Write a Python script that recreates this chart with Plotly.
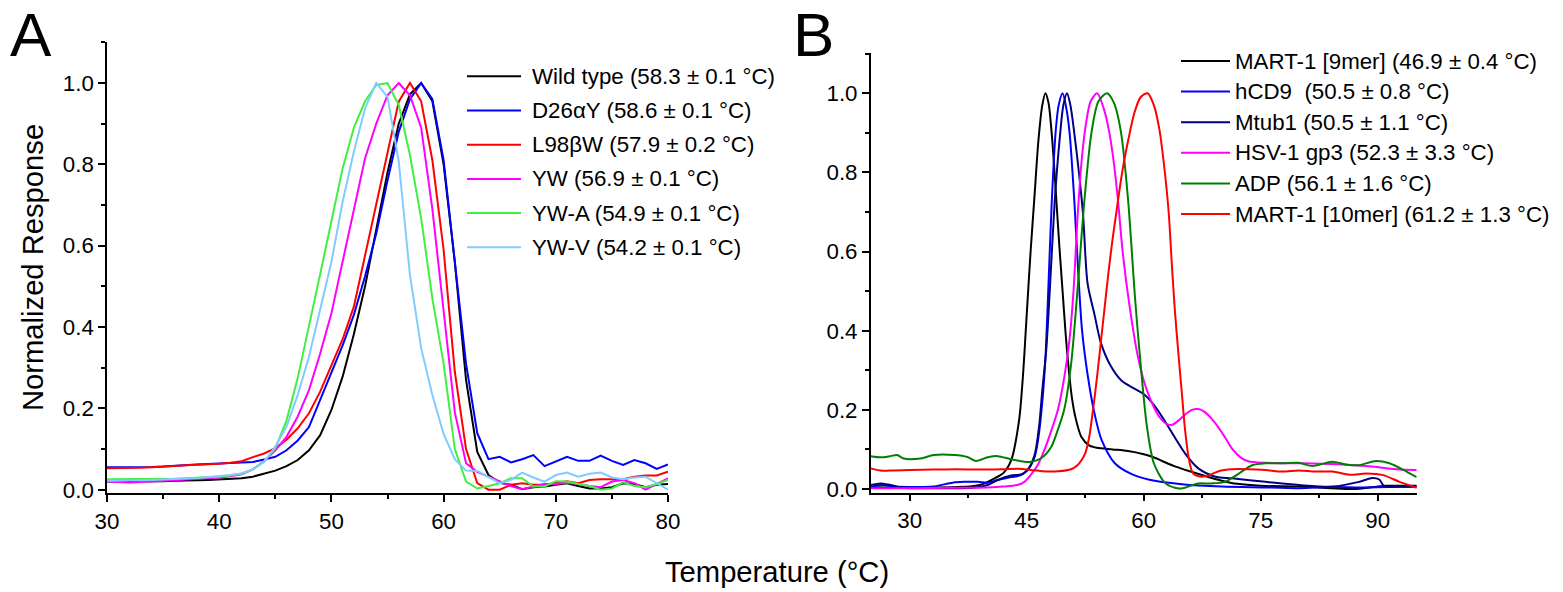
import plotly.graph_objects as go

W, H = 1563, 592
FONT = "Liberation Sans, Arial, sans-serif"

# ---------------- Panel A data (1 °C steps) ----------------
temp_a = list(range(30, 81))
wild_type = [0.020, 0.020, 0.020, 0.021, 0.021, 0.021, 0.022, 0.022, 0.023, 0.024,
             0.025, 0.026, 0.028, 0.032, 0.039, 0.047, 0.058, 0.073, 0.097, 0.134,
             0.196, 0.278, 0.382, 0.500, 0.640, 0.780, 0.900, 0.972, 1.000, 0.955,
             0.800, 0.560, 0.270, 0.093, 0.036, 0.017, 0.012, 0.001, 0.006, 0.008,
             0.012, 0.016, 0.009, 0.003, 0.003, 0.006, 0.016, 0.014, 0.006, 0.012, 0.014]
d26ay = [0.055, 0.055, 0.055, 0.056, 0.056, 0.057, 0.059, 0.061, 0.062, 0.063,
         0.064, 0.065, 0.066, 0.068, 0.074, 0.081, 0.097, 0.121, 0.154, 0.220,
         0.285, 0.355, 0.430, 0.525, 0.630, 0.760, 0.880, 0.960, 1.000, 0.960,
         0.810, 0.560, 0.310, 0.139, 0.075, 0.081, 0.067, 0.075, 0.085, 0.058,
         0.069, 0.081, 0.071, 0.071, 0.084, 0.071, 0.061, 0.073, 0.065, 0.051, 0.062]
l98bw = [0.053, 0.053, 0.054, 0.054, 0.055, 0.056, 0.058, 0.060, 0.061, 0.063,
         0.064, 0.066, 0.070, 0.080, 0.089, 0.102, 0.123, 0.151, 0.188, 0.241,
         0.305, 0.370, 0.450, 0.577, 0.708, 0.831, 0.954, 1.000, 0.955, 0.810,
         0.590, 0.290, 0.100, 0.016, 0.000, 0.000, 0.012, 0.016, 0.012, 0.012,
         0.016, 0.021, 0.016, 0.024, 0.026, 0.026, 0.026, 0.032, 0.035, 0.035, 0.044]
yw = [0.020, 0.019, 0.018, 0.019, 0.020, 0.021, 0.023, 0.025, 0.026, 0.028,
      0.030, 0.033, 0.038, 0.050, 0.070, 0.097, 0.130, 0.180, 0.245, 0.335,
      0.434, 0.560, 0.692, 0.815, 0.900, 0.970, 1.000, 0.970, 0.890, 0.690,
      0.440, 0.190, 0.065, 0.044, 0.032, 0.020, 0.009, 0.001, 0.008, 0.014,
      0.014, 0.017, 0.014, 0.009, 0.006, 0.020, 0.024, 0.016, 0.000, 0.014, 0.028]
yw_a = [0.026, 0.026, 0.026, 0.026, 0.026, 0.027, 0.027, 0.028, 0.029, 0.030,
        0.032, 0.035, 0.040, 0.050, 0.070, 0.102, 0.170, 0.275, 0.400, 0.530,
        0.660, 0.790, 0.890, 0.955, 0.995, 1.000, 0.946, 0.823, 0.667, 0.470,
        0.310, 0.100, 0.020, 0.003, 0.009, 0.016, 0.028, 0.028, 0.008, 0.008,
        0.021, 0.020, 0.014, 0.009, 0.000, 0.003, 0.018, 0.009, 0.006, 0.014, 0.024]
yw_v = [0.022, 0.022, 0.023, 0.023, 0.024, 0.025, 0.026, 0.027, 0.029, 0.031,
        0.033, 0.036, 0.040, 0.050, 0.068, 0.106, 0.155, 0.233, 0.327, 0.442,
        0.560, 0.708, 0.831, 0.938, 1.000, 0.966, 0.807, 0.528, 0.348, 0.233,
        0.137, 0.075, 0.047, 0.046, 0.032, 0.016, 0.024, 0.042, 0.030, 0.020,
        0.036, 0.042, 0.032, 0.039, 0.042, 0.030, 0.026, 0.030, 0.032, 0.016, 0.000]

series_a = [wild_type, d26ay, l98bw, yw, yw_a, yw_v]
names_a = ["Wild type (58.3 ± 0.1 °C)", "D26αY (58.6 ± 0.1 °C)", "L98βW (57.9 ± 0.2 °C)",
           "YW (56.9 ± 0.1 °C)", "YW-A (54.9 ± 0.1 °C)", "YW-V (54.2 ± 0.1 °C)"]
colors_a = ["#000000", "#0000FF", "#FF0000", "#FF00FF", "#40F040", "#80CCFF"]

# ---------------- Panel B data ----------------
t_mart9 = [25, 27, 30, 33, 36, 38, 39, 40, 41, 42, 43, 44, 44.5, 45, 45.5, 46, 46.5, 47, 47.4,
           47.8, 48.2, 48.5, 48.8, 49.2, 49.6, 50, 50.4, 50.8, 51.2, 52, 53, 54, 56, 58, 60,
           61, 62, 63, 64, 66, 68, 70, 72, 75, 80, 84, 87, 89, 91, 95]
y_mart9 = [0.005, 0.004, 0.004, 0.004, 0.005, 0.007, 0.010, 0.018, 0.028, 0.040, 0.072, 0.170,
           0.280, 0.440, 0.600, 0.740, 0.880, 0.970, 1.000, 0.975, 0.900, 0.820, 0.730, 0.610,
           0.500, 0.390, 0.300, 0.230, 0.185, 0.132, 0.110, 0.104, 0.100, 0.096, 0.088,
           0.082, 0.074, 0.065, 0.057, 0.044, 0.032, 0.021, 0.013, 0.008, 0.006, 0.002,
           0.000, 0.004, 0.008, 0.008]

t_hcd9 = [25, 26.3, 28, 30, 33, 35.5, 37, 38.7, 40, 41.2, 43, 44, 45, 46, 46.5, 47, 47.4, 47.8,
          48.2, 48.7, 49.1, 49.6, 50.1, 50.5, 51.1, 51.6, 52.1, 52.8, 53.7, 54.6, 56.3, 58.4,
          60.6, 64.9, 70, 76, 80, 84, 88, 95]
y_hcd9 = [0.005, 0.010, 0.006, 0.005, 0.006, 0.016, 0.018, 0.018, 0.016, 0.022, 0.030, 0.033,
          0.045, 0.080, 0.130, 0.220, 0.330, 0.520, 0.720, 0.900, 0.970, 1.000, 0.960, 0.900,
          0.730, 0.550, 0.400, 0.290, 0.190, 0.124, 0.065, 0.038, 0.024, 0.012, 0.006, 0.004,
          0.002, 0.005, 0.004, 0.006]

t_mtub1 = [25, 26.3, 27.5, 29.2, 32, 36, 38, 40, 41.2, 43, 44.3, 45.1, 46, 46.6, 47, 47.5, 47.9,
           48.6, 49.3, 49.7, 50.17, 50.6, 51.1, 52.2, 52.8, 53.7, 54.5, 55.8, 57.1, 58.4, 60.1,
           61.4, 62.7, 64.0, 65.3, 67, 69.2, 71.3, 75.6, 79.9, 84.2, 87.6, 89.3, 90.2, 90.8,
           92.8, 95]
y_mtub1 = [0.010, 0.014, 0.010, 0.003, 0.002, 0.002, 0.003, 0.010, 0.022, 0.034, 0.037, 0.048,
           0.085, 0.160, 0.250, 0.350, 0.480, 0.730, 0.900, 0.970, 1.000, 0.970, 0.900, 0.700,
           0.520, 0.440, 0.370, 0.310, 0.275, 0.258, 0.238, 0.210, 0.172, 0.130, 0.090, 0.052,
           0.031, 0.027, 0.018, 0.010, 0.006, 0.018, 0.028, 0.024, 0.008, 0.006, 0.006]

t_hsv = [25, 30, 35, 40, 42, 43.8, 44.7, 45.5, 46.4, 47.3, 48.2, 49, 49.8, 50.5, 51, 51.5, 52,
         52.5, 53.2, 54.03, 54.9, 55.6, 56.2, 56.7, 57.3, 58.2, 59.2, 60.1, 61, 61.9, 62.8,
         63.6, 64.4, 65.3, 66.2, 67, 67.8, 68.7, 69.6, 70.5, 71.4, 72.4, 73.4, 75.6, 79.9,
         84.2, 88.5, 92.8, 95]
y_hsv = [0.002, 0.002, 0.003, 0.004, 0.006, 0.010, 0.018, 0.035, 0.060, 0.100, 0.150, 0.200,
         0.280, 0.380, 0.500, 0.680, 0.820, 0.910, 0.980, 1.000, 0.960, 0.900, 0.820, 0.730,
         0.600, 0.460, 0.340, 0.268, 0.220, 0.185, 0.166, 0.162, 0.172, 0.188, 0.200, 0.202,
         0.195, 0.178, 0.155, 0.128, 0.100, 0.080, 0.070, 0.066, 0.065, 0.063, 0.058, 0.049,
         0.048]

t_adp = [25, 26.3, 27.5, 28.4, 29.2, 31.4, 33.1, 35.7, 37.4, 38.5, 40, 41.3, 43, 44.7, 45.6,
         46.8, 48.1, 49, 49.8, 50.7, 51.5, 52.4, 53.3, 54.2, 55.3, 56.2, 57.1, 58.0, 58.9,
         59.6, 60.4, 61.3, 62.7, 64, 65, 66, 67, 68.7, 70.4, 72.2, 73.9, 75.6, 77.8, 79.9,
         81.6, 84.2, 85.9, 87.6, 89.8, 91.5, 93.7, 95]
y_adp = [0.083, 0.080, 0.083, 0.086, 0.077, 0.077, 0.086, 0.086, 0.081, 0.071, 0.080, 0.083,
         0.075, 0.069, 0.069, 0.077, 0.105, 0.150, 0.200, 0.317, 0.500, 0.730, 0.900, 0.980,
         1.000, 0.975, 0.900, 0.730, 0.480, 0.317, 0.160, 0.065, 0.016, 0.003, 0.002, 0.008,
         0.014, 0.014, 0.018, 0.039, 0.060, 0.065, 0.065, 0.066, 0.058, 0.069, 0.062, 0.060,
         0.071, 0.065, 0.044, 0.030]

t_mart10 = [25, 26.5, 28, 30, 33, 36, 39, 42, 44, 45.5, 47, 49, 50.7, 51.5, 52, 52.5, 53, 53.5,
            54, 54.5, 55, 55.5, 56, 56.5, 57, 57.5, 58, 58.8, 59.6, 60.5, 61.3, 62, 62.6, 63.2,
            63.6, 64, 64.5, 64.9, 65.3, 65.8, 66.3, 67, 67.9, 69, 69.6, 71.3, 73.4, 75.6, 77.8,
            79.9, 82, 84.2, 86.4, 88.5, 90.7, 92.8, 95]
y_mart10 = [0.052, 0.046, 0.047, 0.048, 0.049, 0.050, 0.049, 0.050, 0.051, 0.048, 0.045, 0.045,
            0.050, 0.060, 0.072, 0.090, 0.130, 0.200, 0.280, 0.370, 0.460, 0.550, 0.630, 0.700,
            0.770, 0.830, 0.880, 0.950, 0.990, 1.000, 0.970, 0.910, 0.820, 0.700, 0.570, 0.450,
            0.330, 0.240, 0.150, 0.075, 0.040, 0.032, 0.032, 0.040, 0.045, 0.050, 0.050, 0.048,
            0.044, 0.047, 0.044, 0.044, 0.036, 0.039, 0.035, 0.018, 0.003]

series_b = [(t_mart9, y_mart9), (t_hcd9, y_hcd9), (t_mtub1, y_mtub1),
            (t_hsv, y_hsv), (t_adp, y_adp), (t_mart10, y_mart10)]
names_b = ["MART-1 [9mer] (46.9 ± 0.4 °C)", "hCD9  (50.5 ± 0.8 °C)", "Mtub1 (50.5 ± 1.1 °C)",
           "HSV-1 gp3 (52.3 ± 3.3 °C)", "ADP (56.1 ± 1.6 °C)", "MART-1 [10mer] (61.2 ± 1.3 °C)"]
colors_b = ["#000000", "#0000FF", "#000080", "#FF00FF", "#008000", "#FF0000"]

# ---------------- Figure ----------------
fig = go.Figure()
for ys, nm, col in zip(series_a, names_a, colors_a):
    fig.add_trace(go.Scatter(x=temp_a, y=ys, mode="lines", name=nm, showlegend=False,
                             line=dict(color=col, width=2), xaxis="x", yaxis="y"))
for (xs, ys), nm, col in zip(series_b, names_b, colors_b):
    fig.add_trace(go.Scatter(x=xs, y=ys, mode="lines", name=nm, showlegend=False,
                             line=dict(color=col, width=2, shape="spline", smoothing=0.8),
                             xaxis="x2", yaxis="y2"))


def px(x):
    return x / W


def py(y):
    return 1 - y / H


TXT = 22.3
TICKFONT = dict(family=FONT, size=TXT, color="black")


def axis_common():
    return dict(showline=True, linecolor="black", linewidth=1.5, ticks="outside", ticklen=7,
                tickwidth=1.5, tickcolor="black", showgrid=False, zeroline=False,
                tickfont=TICKFONT, automargin=False)


xa = axis_common()
xa.update(domain=[px(107), px(668)], range=[30, 80], tick0=30, dtick=10, anchor="y",
          minor=dict(tick0=30, dtick=5, ticks="outside", ticklen=4, tickwidth=1.5,
                     tickcolor="black", showgrid=False))
ya = axis_common()
ya.update(domain=[py(493.3), py(42)], range=[-0.00885, 1.1008], tick0=0, dtick=0.2,
          tickformat=".1f", anchor="x",
          minor=dict(tick0=0, dtick=0.1, ticks="outside", ticklen=4, tickwidth=1.5,
                     tickcolor="black", showgrid=False))
xb = axis_common()
xb.update(domain=[px(870.7), px(1416.7)], range=[25, 95], tick0=0, dtick=15, anchor="y2",
          minor=dict(tick0=0, dtick=7.5, ticks="outside", ticklen=4, tickwidth=1.5,
                     tickcolor="black", showgrid=False))
yb = axis_common()
yb.update(domain=[py(492.7), py(53)], range=[-0.0094, 1.1018], tick0=0, dtick=0.2,
          tickformat=".1f", anchor="x2",
          minor=dict(tick0=0, dtick=0.1, ticks="outside", ticklen=4, tickwidth=1.5,
                     tickcolor="black", showgrid=False))

annotations = []
shapes = []


# legends (drawn as line samples + text)
def add_legend(names, colors, x0, x1, xt, y0, dy):
    for i, (nm, col) in enumerate(zip(names, colors)):
        yy = y0 + i * dy
        shapes.append(dict(type="line", xref="paper", yref="paper", x0=px(x0), x1=px(x1),
                           y0=py(yy), y1=py(yy), line=dict(color=col, width=2)))
        annotations.append(dict(text=nm, xref="paper", yref="paper", x=px(xt), y=py(yy),
                                xanchor="left", yanchor="middle", showarrow=False,
                                font=dict(family=FONT, size=TXT, color="black")))


add_legend(names_a, colors_a, 467, 521, 530, 76.3, 34.2)
add_legend(names_b, colors_b, 1181, 1230, 1233, 61, 30.6)

# panel letters
annotations.append(dict(text="A", xref="paper", yref="paper", x=px(31), y=py(35),
                        xanchor="center", yanchor="middle", showarrow=False,
                        font=dict(family=FONT, size=62, color="black")))
annotations.append(dict(text="B", xref="paper", yref="paper", x=px(813), y=py(35),
                        xanchor="center", yanchor="middle", showarrow=False,
                        font=dict(family=FONT, size=62, color="black")))
# axis titles
annotations.append(dict(text="Normalized Response", xref="paper", yref="paper", x=px(33),
                        y=py(268), xanchor="center", yanchor="middle", textangle=-90,
                        showarrow=False, font=dict(family=FONT, size=29.2, color="black")))
annotations.append(dict(text="Temperature (°C)", xref="paper", yref="paper", x=px(777),
                        y=py(572), xanchor="center", yanchor="middle", showarrow=False,
                        font=dict(family=FONT, size=29.2, color="black")))

fig.update_layout(width=W, height=H, margin=dict(l=0, r=0, t=0, b=0),
                  paper_bgcolor="white", plot_bgcolor="white", showlegend=False,
                  xaxis=xa, yaxis=ya, xaxis2=xb, yaxis2=yb,
                  annotations=annotations, shapes=shapes,
                  font=dict(family=FONT, color="black"))

fig.write_html("out.html", config={"displayModeBar": False},
               post_script="document.body.style.margin='0';document.body.style.overflow='hidden';")
